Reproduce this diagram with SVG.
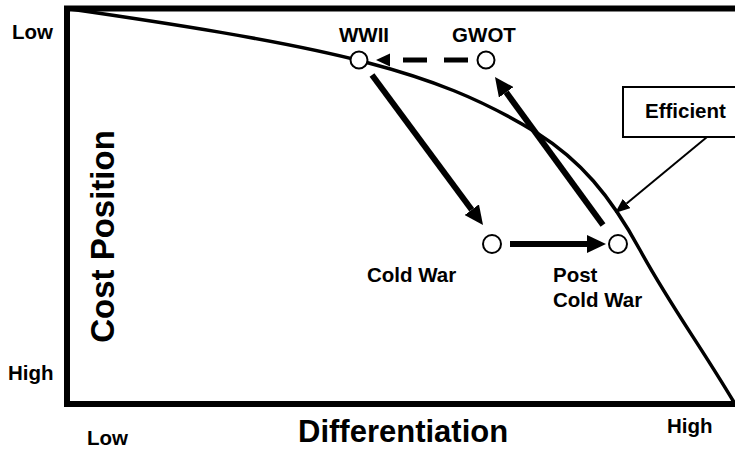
<svg xmlns="http://www.w3.org/2000/svg" width="735" height="449" viewBox="0 0 735 449">
  <style>
    text { font-family: "Liberation Sans", Arial, sans-serif; font-weight: bold; fill: #000; }
    .lbl { font-size: 20.5px; }
    .axis { font-size: 31px; }
    .node { fill: #fff; stroke: #000; stroke-width: 2; }
    .thick { stroke: #000; stroke-width: 6; fill: none; }
  </style>
  <defs>
    <marker id="head" markerUnits="userSpaceOnUse" markerWidth="19" markerHeight="18" refX="0" refY="9" orient="auto" viewBox="0 0 19 18">
      <path d="M0,0 L19,9 L0,18 z" fill="#000"/>
    </marker>
    <marker id="thinhead" markerUnits="userSpaceOnUse" markerWidth="15" markerHeight="12" refX="0" refY="6" orient="auto" viewBox="0 0 15 12">
      <path d="M0,0 L15,6 L0,12 z" fill="#000"/>
    </marker>
  </defs>
  <rect width="735" height="449" fill="#fff"/>

  <g id="axes">
    <path d="M67,404 L67,8.5 L735,8.5" fill="none" stroke="#000" stroke-width="6"/>
    <path d="M64,404 L735,404" fill="none" stroke="#000" stroke-width="6"/>
    <text class="lbl" x="12" y="39">Low</text>
    <text class="lbl" x="8" y="380">High</text>
    <text class="lbl" x="87" y="445">Low</text>
    <text class="lbl" x="667" y="433">High</text>
    <text class="axis" x="298" y="442">Differentiation</text>
    <text class="axis" style="font-size:33px" text-anchor="middle" transform="translate(114,236.5) rotate(-90)">Cost Position</text>
  </g>

  <g id="frontier">
    <path d="M70,9 C160,22 280,40 365,62 C430,79 480,98 537,133 C580,160 610,195 640,250 C670,305 700,345 735,404" fill="none" stroke="#000" stroke-width="3.5"/>
  </g>

  <g id="connectors">
    <line class="thick" x1="372" y1="75" x2="471.7" y2="209.7" marker-end="url(#head)"/>
    <line class="thick" x1="510" y1="244" x2="587" y2="244" marker-end="url(#head)"/>
    <line class="thick" x1="603" y1="225" x2="506.2" y2="92.35" marker-end="url(#head)"/>
    <line x1="468" y1="60" x2="403" y2="60" stroke="#000" stroke-width="5" stroke-dasharray="24 17"/>
    <polygon points="376,60 390,53.5 390,66.5" fill="#000"/>
    <line x1="707" y1="137" x2="626.6" y2="203.5" stroke="#000" stroke-width="2" marker-end="url(#thinhead)"/>
  </g>

  <g id="wwii">
    <circle class="node" cx="359" cy="60" r="8.5"/>
    <text class="lbl" x="364" y="42" text-anchor="middle">WWII</text>
  </g>
  <g id="gwot">
    <circle class="node" cx="486" cy="60" r="8.5"/>
    <text class="lbl" x="484" y="42" text-anchor="middle">GWOT</text>
  </g>
  <g id="coldwar">
    <circle class="node" cx="492" cy="244" r="9"/>
    <text class="lbl" x="367" y="282">Cold War</text>
  </g>
  <g id="postcoldwar">
    <circle class="node" cx="618" cy="244" r="9"/>
    <text class="lbl" x="553" y="282">Post</text>
    <text class="lbl" x="553" y="307">Cold War</text>
  </g>
  <g id="efficient">
    <rect x="623" y="87" width="130" height="50" fill="#fff" stroke="#000" stroke-width="2"/>
    <text class="lbl" x="645" y="118">Efficient</text>
  </g>
</svg>
